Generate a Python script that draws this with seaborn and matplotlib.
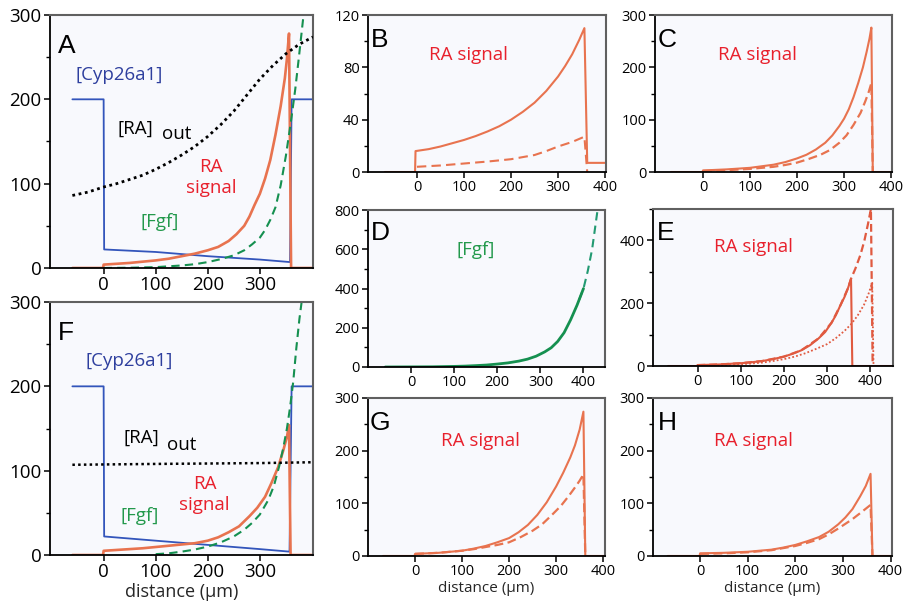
import matplotlib
matplotlib.use("Agg")
import matplotlib.pyplot as plt
import seaborn as sns
from matplotlib.ticker import MultipleLocator

sns.set_theme(style="ticks")
plt.rcParams['font.family'] = ['Open Sans', 'DejaVu Sans']

# ---------------- colours ----------------
BG = "#f8f9fd"
C_RA = "#e8734f"
C_RA_E = "#e05a40"
C_RA_TXT = "#e8202c"
C_CYP = "#3355bb"
C_CYP_TXT = "#2e3f9e"
C_FGF = "#159050"
C_FGF_TXT = "#23994c"
C_FGF_D = "#229a72"

# ---------------- Panel A ----------------
a_cyp_x = [-60, 0, 1, 100, 200, 300, 358, 361, 402]
a_cyp_y = [200, 200, 22, 19, 14, 10, 7, 200, 200]
a_raout_x = [-60, -30, 0, 25, 50, 75, 100, 125, 150, 175, 200, 225, 250, 275, 300, 325, 350, 375, 402]
a_raout_y = [86, 90, 96, 100, 105, 110, 117, 125, 134, 144, 156, 170, 186, 205, 224, 240, 254, 265, 274]
a_ra_x = [-60, -1, 0, 25, 50, 75, 100, 125, 150, 175, 200, 220, 240, 255, 270, 280, 290, 300,
          310, 320, 330, 340, 348, 352, 356, 360, 402]
a_ra_y = [0, 0, 4, 5, 6, 7.5, 9, 11, 14, 17, 21, 25, 32, 40, 50, 61, 75, 88,
          106, 128, 158, 192, 225, 248, 278, 0, 0]
a_fgf_x = [0, 50, 100, 150, 175, 200, 225, 250, 270, 285, 300, 310, 320, 330, 340, 350, 360, 368,
           375, 383, 388]
a_fgf_y = [0, 0.3, 1, 3, 4.5, 7, 10.5, 15, 21, 28, 36, 45, 57, 72, 98, 133, 175, 212,
           250, 295, 325]

# ---------------- Panel F ----------------
f_cyp_x = [-60, 0, 1, 100, 200, 300, 357, 361, 402]
f_cyp_y = [200, 200, 22, 17, 12, 7, 4, 200, 200]
f_raout_x = [-60, 100, 200, 300, 402]
f_raout_y = [107, 108, 108.5, 109, 110]
f_ra_x = [-60, -1, 0, 25, 50, 75, 100, 125, 150, 175, 200, 220, 240, 260, 280, 295, 310, 322,
          335, 345, 352, 356, 359, 402]
f_ra_y = [0, 0, 5, 6, 7, 8, 9.5, 11, 12.5, 14, 17, 21, 27, 34, 46, 56, 69, 85,
          104, 124, 140, 154, 0, 0]
f_fgf_x = [100, 125, 150, 175, 200, 225, 250, 270, 285, 300, 316, 327, 337, 345, 352, 358, 364,
           370, 376, 384]
f_fgf_y = [1, 2, 4, 6.5, 10, 15, 22, 30, 38, 48, 65, 82, 105, 127, 150, 175, 205,
           245, 280, 318]

# ---------------- Panel B ----------------
b_solid_x = [-68, -4, -3, 25, 50, 75, 100, 125, 150, 175, 200, 225, 250, 275, 300, 315, 330,
             345, 356, 362, 402]
b_solid_y = [0, 0, 16, 17.5, 19.5, 22, 24.5, 27.5, 31, 35, 40, 46, 53, 62, 73, 81, 90,
             101, 110, 7, 7]
b_dash_x = [0, 50, 100, 150, 200, 250, 275, 300, 330, 356, 362]
b_dash_y = [4, 5, 6.5, 8, 9.8, 13, 16, 19.5, 23, 27, 0]

# ---------------- Panel C ----------------
c_solid_x = [-68, -1, 0, 25, 50, 75, 100, 125, 150, 175, 200, 220, 240, 260, 275, 290, 300,
             310, 320, 330, 340, 348, 354, 358, 361, 402]
c_solid_y = [0, 0, 3, 4, 5, 6.5, 8, 11, 14, 19, 26, 33, 43, 56, 70, 88, 102,
             120, 143, 170, 200, 230, 255, 276, 0, 0]
c_dash_x = [0, 50, 100, 125, 150, 175, 200, 225, 250, 270, 290, 305, 320, 335, 345, 352, 358, 361]
c_dash_y = [2, 3.5, 6, 8, 10, 13.5, 18, 25, 33, 42, 56, 70, 90, 113, 135, 152, 170, 0]

# ---------------- Panel D ----------------
d_solid_x = [-60, 0, 50, 100, 125, 150, 175, 200, 225, 250, 270, 290, 310, 325, 340, 355,
             370, 385, 400]
d_solid_y = [0, 0.5, 1, 3, 4.5, 7, 10, 15, 21, 30, 40, 55, 77, 98, 130, 175,
             240, 315, 400]
d_dash_x = [390, 400, 410, 420, 432]
d_dash_y = [343, 400, 490, 600, 790]

# ---------------- Panel E ----------------
e_main_x = [-68, -1, 0, 50, 100, 125, 150, 175, 200, 220, 240, 260, 280, 295, 310, 320, 330,
            340, 348, 355, 358, 452]
e_main_y = [0, 0, 3, 5, 9, 12, 16, 22, 30, 39, 50, 66, 88, 108, 138, 162, 192,
            220, 248, 278, 0, 0]
e_dash_x = [0, 50, 100, 150, 200, 240, 280, 310, 330, 348, 355, 365, 377, 386, 394, 401, 405]
e_dash_y = [3, 5, 9, 16, 30, 50, 88, 138, 192, 248, 278, 310, 355, 400, 451, 500, 0]
e_dot_x = [0, 50, 100, 125, 150, 175, 200, 225, 250, 275, 300, 320, 340, 355, 370, 385, 395,
           404, 407]
e_dot_y = [2, 3, 6, 8, 11, 16, 22, 30, 41, 55, 70, 89, 112, 133, 160, 195, 228,
           265, 0]

# ---------------- Panel G ----------------
g_solid_x = [-68, -1, 0, 25, 50, 75, 100, 125, 150, 175, 200, 220, 240, 260, 280, 300, 315,
             330, 340, 350, 358, 362, 402]
g_solid_y = [0, 0, 4, 5, 6, 8, 10, 14, 19, 26, 34, 45, 59, 78, 102, 132, 158,
             187, 210, 240, 274, 0, 0]
g_dash_x = [0, 50, 100, 125, 150, 175, 200, 225, 250, 270, 290, 310, 326, 340, 350, 358, 362]
g_dash_y = [4, 6, 10, 13, 17, 21, 26, 36, 48, 60, 77, 95, 113, 130, 143, 155, 0]

# ---------------- Panel H ----------------
h_solid_x = [-68, -1, 0, 25, 50, 75, 100, 125, 150, 175, 200, 225, 250, 270, 290, 305, 320,
             336, 348, 358, 362, 402]
h_solid_y = [0, 0, 5, 5.5, 6, 7, 8, 10, 12, 16, 21, 28, 36, 46, 60, 73, 89,
             113, 133, 156, 0, 0]
h_dash_x = [0, 50, 100, 125, 150, 175, 200, 225, 250, 270, 290, 305, 320, 340, 358, 362]
h_dash_y = [4, 5, 7, 9, 11, 15, 19, 25, 32, 41, 52, 61, 70, 84, 97, 0]

XLABEL = "distance (\u03bcm)"

fig = plt.figure(figsize=(9.04, 6.04), dpi=100)
fig.patch.set_facecolor("white")


def setup(ax, xlim, ylim, xticks, ymaj, ymin, fs):
    ax.set_facecolor(BG)
    ax.set_xlim(*xlim)
    ax.set_ylim(*ylim)
    ax.set_xticks(xticks)
    ax.yaxis.set_major_locator(MultipleLocator(ymaj))
    ax.yaxis.set_minor_locator(MultipleLocator(ymin))
    ax.tick_params(axis='both', which='major', direction='out', length=4,
                   width=1.1, labelsize=fs, pad=2, colors='black')
    ax.tick_params(axis='y', which='minor', direction='out', length=3, width=1.0,
                   colors='black')
    for s in ['left', 'bottom']:
        ax.spines[s].set_color('black')
        ax.spines[s].set_linewidth(1.3)
    for s in ['top', 'right']:
        ax.spines[s].set_color('#606060')
        ax.spines[s].set_linewidth(1.5)
    ax.set_xlabel('')
    ax.set_ylabel('')


def line(ax, x, y, color, lw, ls='-', z=2):
    sns.lineplot(x=x, y=y, ax=ax, color=color, linewidth=lw, linestyle=ls,
                 estimator=None, sort=False, legend=False, zorder=z)


def letter(ax, s, x, y):
    ax.text(x, y, s, transform=ax.transAxes, fontsize=19, color='black',
            family=['Liberation Sans', 'DejaVu Sans'], va='baseline', ha='left')


DASH = (0, (4, 2.5))
DOT = (0, (1, 1.3))

# ---- A ----
axA = fig.add_axes([0.0553, 0.5563, 0.2909, 0.4189])
line(axA, a_cyp_x, a_cyp_y, C_CYP, 1.3)
line(axA, a_ra_x, a_ra_y, C_RA, 1.9)
line(axA, a_fgf_x, a_fgf_y, C_FGF, 1.5, DASH)
line(axA, a_raout_x, a_raout_y, 'black', 2.0, DOT, z=3)
setup(axA, (-103, 402), (0, 300), [0, 100, 200, 300], 100, 50, 13.5)
letter(axA, "A", 0.03, 0.85)
axA.text(30, 223, "[Cyp26a1]", color=C_CYP_TXT, fontsize=13.5, ha='center', va='baseline')
axA.text(27, 159.5, "[RA]", color='black', fontsize=13.5, ha='left', va='baseline')
axA.text(113, 152.5, "out", color='black', fontsize=13.5, ha='left', va='baseline')
axA.text(206, 114, "RA", color=C_RA_TXT, fontsize=13.5, ha='center', va='baseline')
axA.text(206, 89, "signal", color=C_RA_TXT, fontsize=13.5, ha='center', va='baseline')
axA.text(107, 49, "[Fgf]", color=C_FGF_TXT, fontsize=13.5, ha='center', va='baseline')

# ---- F ----
axF = fig.add_axes([0.0553, 0.0811, 0.2909, 0.4189])
line(axF, f_cyp_x, f_cyp_y, C_CYP, 1.3)
line(axF, f_ra_x, f_ra_y, C_RA, 1.9)
line(axF, f_fgf_x, f_fgf_y, C_FGF, 1.5, DASH)
line(axF, f_raout_x, f_raout_y, 'black', 1.8, DOT, z=3)
setup(axF, (-103, 402), (0, 300), [0, 100, 200, 300], 100, 50, 13.5)
letter(axF, "F", 0.03, 0.85)
axF.text(50, 224, "[Cyp26a1]", color=C_CYP_TXT, fontsize=13.5, ha='center', va='baseline')
axF.text(39, 132.5, "[RA]", color='black', fontsize=13.5, ha='left', va='baseline')
axF.text(122, 124.5, "out", color='black', fontsize=13.5, ha='left', va='baseline')
axF.text(195, 78, "RA", color=C_RA_TXT, fontsize=13.5, ha='center', va='baseline')
axF.text(194, 53, "signal", color=C_RA_TXT, fontsize=13.5, ha='center', va='baseline')
axF.text(69, 40, "[Fgf]", color=C_FGF_TXT, fontsize=13.5, ha='center', va='baseline')
axF.set_xlabel(XLABEL, fontsize=13, labelpad=1)

# ---- B ----
axB = fig.add_axes([0.4071, 0.7152, 0.2633, 0.2599])
line(axB, b_solid_x, b_solid_y, C_RA, 1.5)
line(axB, b_dash_x, b_dash_y, C_RA, 1.5, (0, (4.5, 2.5)))
setup(axB, (-104, 402), (0, 120), [0, 100, 200, 300, 400], 40, 20, 10.5)
letter(axB, "B", 0.012, 0.796)
axB.text(110, 86, "RA signal", color=C_RA_TXT, fontsize=13.5, ha='center', va='baseline')

# ---- C ----
axC = fig.add_axes([0.7246, 0.7152, 0.2622, 0.2599])
line(axC, c_solid_x, c_solid_y, C_RA, 1.5)
line(axC, c_dash_x, c_dash_y, C_RA, 1.6, (0, (4, 2)))
setup(axC, (-102, 402), (0, 300), [0, 100, 200, 300, 400], 100, 50, 10.5)
letter(axC, "C", 0.012, 0.796)
axC.text(116, 215, "RA signal", color=C_RA_TXT, fontsize=13.5, ha='center', va='baseline')

# ---- D ----
axD = fig.add_axes([0.4071, 0.3924, 0.2622, 0.2599])
line(axD, d_dash_x, d_dash_y, C_FGF_D, 1.5, (0, (4, 2.5)))
line(axD, d_solid_x, d_solid_y, C_FGF, 2.0)
setup(axD, (-100, 450), (0, 800), [0, 100, 200, 300, 400], 200, 100, 10.5)
letter(axD, "D", 0.012, 0.809)
axD.text(149, 571, "[Fgf]", color=C_FGF_TXT, fontsize=13.5, ha='center', va='baseline')

# ---- E ----
axE = fig.add_axes([0.7223, 0.3940, 0.2655, 0.2599])
line(axE, e_main_x, e_main_y, C_RA_E, 1.5)
line(axE, e_dash_x, e_dash_y, C_RA_E, 1.6, (0, (3.5, 1.8)))
line(axE, e_dot_x, e_dot_y, C_RA_E, 1.3, (0, (1, 1.2)))
setup(axE, (-103, 452), (0, 500), [0, 100, 200, 300, 400], 200, 100, 10.5)
letter(axE, "E", 0.018, 0.803)
axE.text(130, 363, "RA signal", color=C_RA_TXT, fontsize=13.5, ha='center', va='baseline')

# ---- G ----
axG = fig.add_axes([0.4071, 0.0795, 0.2622, 0.2616])
line(axG, g_solid_x, g_solid_y, C_RA, 1.5)
line(axG, g_dash_x, g_dash_y, C_RA, 1.6, (0, (4, 2)))
setup(axG, (-100, 404), (0, 300), [0, 100, 200, 300, 400], 100, 50, 10.5)
letter(axG, "G", 0.008, 0.797)
axG.text(138, 209, "RA signal", color=C_RA_TXT, fontsize=13.5, ha='center', va='baseline')
axG.set_xlabel(XLABEL, fontsize=11, labelpad=1)

# ---- H ----
axH = fig.add_axes([0.7223, 0.0795, 0.2644, 0.2616])
line(axH, h_solid_x, h_solid_y, C_RA, 1.5)
line(axH, h_dash_x, h_dash_y, C_RA, 1.6, (0, (4, 2)))
setup(axH, (-99, 403), (0, 300), [0, 100, 200, 300, 400], 100, 50, 10.5)
letter(axH, "H", 0.022, 0.797)
axH.text(113, 209, "RA signal", color=C_RA_TXT, fontsize=13.5, ha='center', va='baseline')
axH.set_xlabel(XLABEL, fontsize=11, labelpad=1)

fig.savefig("out.png", dpi=100, facecolor="white")
